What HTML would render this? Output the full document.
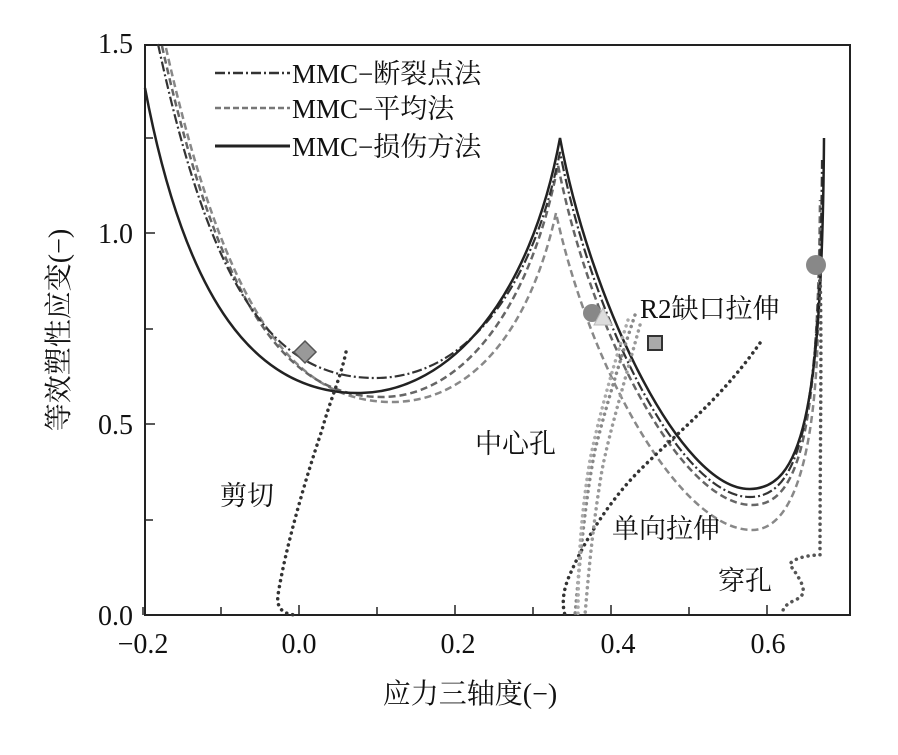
<!DOCTYPE html>
<html><head><meta charset="utf-8"><style>
body{margin:0;background:#fff}
text{font-family:"Liberation Serif","Noto Serif CJK SC",serif;fill:#111}
</style></head><body>
<svg width="898" height="750" viewBox="0 0 898 750" xmlns="http://www.w3.org/2000/svg">
<rect x="145" y="45" width="705" height="570" fill="none" stroke="#222" stroke-width="2"/>
<g stroke="#222" stroke-width="1.5">
<line x1="143" y1="615" x2="143" y2="607"/><line x1="221" y1="615" x2="221" y2="607"/><line x1="299" y1="615" x2="299" y2="605"/><line x1="377" y1="615" x2="377" y2="607"/><line x1="455" y1="615" x2="455" y2="605"/><line x1="533" y1="615" x2="533" y2="607"/><line x1="611" y1="615" x2="611" y2="605"/><line x1="689" y1="615" x2="689" y2="607"/><line x1="767" y1="615" x2="767" y2="605"/>
<line x1="145" y1="520" x2="153" y2="520"/><line x1="145" y1="424" x2="155" y2="424"/><line x1="145" y1="329" x2="153" y2="329"/><line x1="145" y1="233" x2="155" y2="233"/><line x1="145" y1="138" x2="153" y2="138"/>
</g>
<g font-size="28" text-anchor="middle">
<text x="143" y="653">−0.2</text><text x="299" y="653">0.0</text><text x="458" y="653">0.2</text><text x="618" y="653">0.4</text><text x="768" y="653">0.6</text>
</g>
<g font-size="28" text-anchor="end">
<text x="133" y="53">1.5</text><text x="133" y="243">1.0</text><text x="133" y="434">0.5</text><text x="133" y="625">0.0</text>
</g>
<text x="470" y="703" font-size="28" text-anchor="middle">应力三轴度(−)</text>
<text transform="translate(68,330) rotate(-90)" font-size="28" text-anchor="middle">等效塑性应变(−)</text>
<g fill="none">
<path d="M166,48 C225,310 292,402 392,402 C472,402 530,330 556,213 C590,370 680,530 752,530 C795,530 815,450 818,330" stroke="#888" stroke-width="2.5" stroke-dasharray="7,4"/>
<path d="M162,46 C220,305 285,397 382,397 C462,397 530,310 558,165 C590,330 680,505 752,505 C800,505 818,430 820,200" stroke="#666" stroke-width="2.5" stroke-dasharray="7,4"/>
<path d="M158,44 C210,285 270,378 375,378 C460,378 530,300 560,152 C592,320 680,497 750,497 C800,497 820,420 822,160" stroke="#333" stroke-width="2.2" stroke-dasharray="10,3,2,3"/>
<path d="M145,88 C185,300 255,395 361,393 C450,391 530,300 560,138 C590,300 680,490 750,489 C800,488 822,420 824,138" stroke="#222" stroke-width="2.5"/>
</g>
<g fill="none" stroke-width="3.5" stroke-linecap="round" stroke-dasharray="0.1,6">
<path d="M346,352 C340,380 330,400 322,430 C305,480 285,550 278,595 C276,610 285,614 295,615" stroke="#333"/>
<path d="M760,343 C720,400 680,430 640,470 C610,500 585,540 572,570 C562,590 562,605 565,615" stroke="#333"/>
<path d="M635,315 C620,360 605,410 595,450 C585,500 580,560 575,615" stroke="#888"/>
<path d="M628,320 C612,370 598,420 590,460 C580,520 578,570 578,615" stroke="#aaa"/>
<path d="M640,325 C625,380 610,430 602,470 C592,530 588,580 585,615" stroke="#999"/>
<path d="M820,268 C822,350 820,450 820,555 C805,555 790,560 790,565 C805,585 808,595 795,600 C785,605 780,610 785,615" stroke="#555"/>
</g>
<polygon points="305,341 316,352 305,363 294,352" fill="#999" stroke="#555" stroke-width="1.5"/>
<circle cx="592" cy="313" r="9" fill="#888"/>
<polygon points="603,308 612,325 594,325" fill="#ddd" stroke="#bbb"/>
<rect x="648" y="336" width="14" height="14" fill="#aaa" stroke="#333" stroke-width="2"/>
<circle cx="816" cy="265" r="10" fill="#888"/>
<g font-size="27">
<text x="640" y="318">R2缺口拉伸</text>
<text x="475" y="453">中心孔</text>
<text x="220" y="505">剪切</text>
<text x="612" y="538">单向拉伸</text>
<text x="718" y="590">穿孔</text>
</g>
<g fill="none" stroke-width="2.5">
<line x1="215" y1="73" x2="290" y2="73" stroke="#333" stroke-dasharray="10,3,2,3"/>
<line x1="215" y1="108" x2="290" y2="108" stroke="#777" stroke-dasharray="6,3"/>
<line x1="215" y1="146" x2="290" y2="146" stroke="#222" stroke-width="3"/>
</g>
<g font-size="27">
<text x="292" y="83">MMC−断裂点法</text>
<text x="292" y="118">MMC−平均法</text>
<text x="292" y="156">MMC−损伤方法</text>
</g>
</svg>
</body></html>
